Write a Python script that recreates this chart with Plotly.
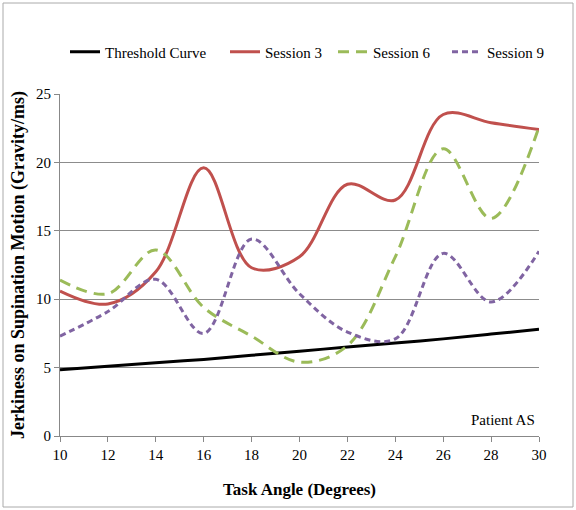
import plotly.graph_objects as go

angles = [10, 12, 14, 16, 18, 20, 22, 24, 26, 28, 30]
threshold = [4.85, 5.1, 5.35, 5.6, 5.9, 6.2, 6.5, 6.8, 7.1, 7.45, 7.8]
session3 = [10.6, 9.65, 12.0, 19.6, 12.3, 13.1, 18.4, 17.25, 23.5, 22.9, 22.4]
session6 = [11.4, 10.4, 13.6, 9.4, 7.3, 5.4, 6.6, 13.1, 21.0, 15.9, 22.6]
session9 = [7.3, 9.1, 11.45, 7.5, 14.4, 10.4, 7.6, 7.1, 13.35, 9.8, 13.5]

FONT = "Liberation Serif, Times New Roman, serif"

L, R, T, B = 60, 539, 94, 436
W, H = 576, 510
pw, ph = R - L, B - T

series = [
    ("Threshold Curve", threshold, "#000000", "solid", "legend", 70),
    ("Session 3", session3, "#C0504D", "solid", "legend2", 230),
    ("Session 6", session6, "#9BBB59", "11px,7px", "legend3", 338),
    ("Session 9", session9, "#8064A2", "6px,4px", "legend4", 452),
]

fig = go.Figure()
legends = {}
for name, vals, color, dash, lg, lx in series:
    fig.add_trace(go.Scatter(
        x=angles, y=vals, name=name, mode="lines", legend=lg,
        line=dict(color=color, width=3, dash=dash, shape="spline", smoothing=1.0),
    ))
    legends[lg] = dict(orientation="h", x=(lx - 5 - L) / pw, xanchor="left",
                       y=1 + 42 / ph, yanchor="middle",
                       font=dict(family=FONT, size=15), itemwidth=30,
                       bgcolor="rgba(0,0,0,0)")

fig.update_layout(
    width=W, height=H,
    margin=dict(l=L, r=W - R, t=T, b=H - B, autoexpand=False),
    paper_bgcolor="white", plot_bgcolor="white",
    font=dict(family=FONT, size=14, color="#000000"),
    showlegend=True,
    xaxis=dict(range=[10, 30], tickmode="array", tickvals=angles,
               ticks="outside", ticklen=5, tickcolor="#888888",
               showline=True, linecolor="#888888", linewidth=1,
               showgrid=False, zeroline=False, automargin=False,
               tickfont=dict(family=FONT, size=15),
               title=dict(text="<b>Task Angle (Degrees)</b>", font=dict(family=FONT, size=17), standoff=21)),
    yaxis=dict(range=[0, 25], dtick=5, ticks="outside", ticklen=5, tickcolor="#888888",
               showline=True, linecolor="#888888", linewidth=1,
               showgrid=True, gridcolor="#8c8c8c", gridwidth=1, zeroline=False, automargin=False,
               tickfont=dict(family=FONT, size=15),
               title=dict(text="<b>Jerkiness on Supination Motion (Gravity/ms)</b>",
                          font=dict(family=FONT, size=18), standoff=6)),
    **legends,
)

fig.add_annotation(text="Patient AS", xref="paper", yref="y", x=0.995, y=1.2,
                   xanchor="right", yanchor="middle", showarrow=False,
                   font=dict(family=FONT, size=15))

fig.add_shape(type="rect", xref="paper", yref="paper",
              x0=(3 - L) / pw, x1=(573 - L) / pw,
              y0=(B - 507) / ph, y1=(B - 3) / ph,
              line=dict(color="#aaaaaa", width=1), fillcolor="rgba(0,0,0,0)", layer="below")

fig.write_html("out.html", config={"displayModeBar": False},
               post_script="document.body.style.margin='0';document.body.style.overflow='hidden';")
